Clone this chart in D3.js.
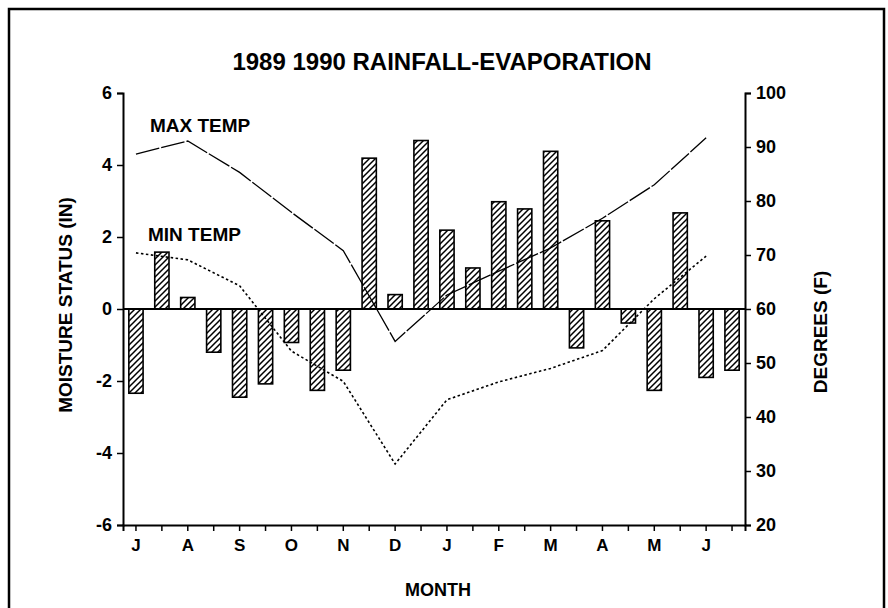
<!DOCTYPE html>
<html>
<head>
<meta charset="utf-8">
<script src="https://cdn.jsdelivr.net/npm/d3@7"></script>
<style>
  body { margin: 0; background: #fff; }
  svg { font-family: "Liberation Sans", Arial, sans-serif; font-weight: bold; }
</style>
</head>
<body>
<svg id="chart"></svg>
<script>
// half-month moisture status, monthly temps
var months = ["J", "A", "S", "O", "N", "D", "J", "F", "M", "A", "M", "J"]
var moisture = [-2.34, 1.58, 0.32, -1.2, -2.45, -2.08, -0.93, -2.26, -1.7, 4.19, 0.40, 4.68,
                2.19, 1.14, 2.98, 2.78, 4.38, -1.08, 2.45, -0.39, -2.26, 2.67, -1.9, -1.7]
var maxTemp = [88.7, 91.1, 85.3, 77.9, 70.8, 54, 62.6, 67, 71.3, 76.8, 83, 91.7]
var minTemp = [70.4, 69.1, 64.3, 52.2, 46.6, 31.3, 43.2, 46.5, 49, 52.3, 61.9, 69.8]
var leftTicks = [-6, -4, -2, 0, 2, 4, 6]
var rightTicks = [20, 30, 40, 50, 60, 70, 80, 90, 100]

var dimensions = {
    width: 888,
    height: 608,
    margin: { top: 93, bottom: 83, left: 123, right: 143 }
}

var svg = d3.select('#chart')
    .attr("width", dimensions.width)
    .attr("height", dimensions.height)

var x0 = dimensions.margin.left
var x1 = dimensions.width - dimensions.margin.right
var yTop = dimensions.margin.top
var yBot = dimensions.height - dimensions.margin.bottom

var xScale = d3.scaleBand()
    .domain(d3.range(moisture.length))
    .range([x0, x1])
    .paddingInner(0.45)
    .paddingOuter(0.225)

var xCenter = i => xScale(i) + xScale.bandwidth() / 2

var yScale = d3.scaleLinear().domain([-6, 6]).range([yBot, yTop])
var tScale = d3.scaleLinear().domain([20, 100]).range([yBot, yTop])

// hatch pattern
var defs = svg.append("defs")
defs.append("pattern")
    .attr("id", "hatch")
    .attr("patternUnits", "userSpaceOnUse")
    .attr("width", 6)
    .attr("height", 6)
    .append("path")
    .attr("d", "M-1,1 l2,-2 M0,6 l6,-6 M5,7 l2,-2")
    .attr("stroke", "#000")
    .attr("stroke-width", 1.5)

// outer frame
svg.append("rect")
    .attr("x", 9).attr("y", 9)
    .attr("width", 875).attr("height", 640)
    .attr("fill", "none")
    .attr("stroke", "#000")
    .attr("stroke-width", 2.5)

// title
svg.append("text")
    .attr("x", 442).attr("y", 70)
    .attr("text-anchor", "middle")
    .style("font-size", "24px")
    .text("1989 1990 RAINFALL-EVAPORATION")

// bars
svg.append("g").selectAll("rect")
    .data(moisture)
    .enter()
    .append("rect")
    .attr("x", (d, i) => xScale(i))
    .attr("width", xScale.bandwidth())
    .attr("y", d => yScale(Math.max(0, d)))
    .attr("height", d => Math.abs(yScale(d) - yScale(0)))
    .attr("fill", "url(#hatch)")
    .attr("stroke", "#000")
    .attr("stroke-width", 1.6)

// zero line
svg.append("line")
    .attr("x1", x0).attr("x2", x1)
    .attr("y1", yScale(0)).attr("y2", yScale(0))
    .attr("stroke", "#000")
    .attr("stroke-width", 2)

// temperature lines
var line = d3.line()
    .x((d, i) => xCenter(i * 2))
    .y(d => tScale(d))

svg.append("path")
    .datum(maxTemp)
    .attr("d", line)
    .attr("fill", "none")
    .attr("stroke", "#000")
    .attr("stroke-width", 1.3)
    .attr("stroke-dasharray", "24,2")

svg.append("path")
    .datum(minTemp)
    .attr("d", line)
    .attr("fill", "none")
    .attr("stroke", "#000")
    .attr("stroke-width", 1.6)
    .attr("stroke-dasharray", "2.5,2.5")

svg.append("text").attr("x", 150).attr("y", 132)
    .style("font-size", "19px").text("MAX TEMP")
svg.append("text").attr("x", 148).attr("y", 241)
    .style("font-size", "19px").text("MIN TEMP")

// axes
var leftAxis = svg.append('g')
    .attr("transform", `translate(${x0},0)`)
    .call(d3.axisLeft(yScale).tickValues(leftTicks).tickFormat(d => String(d)).tickSize(6).tickPadding(5))

var rightAxis = svg.append('g')
    .attr("transform", `translate(${x1},0)`)
    .call(d3.axisRight(tScale).tickValues(rightTicks).tickSize(6).tickPadding(5))

var bottomAxis = svg.append('g')
    .attr("transform", `translate(0,${yBot})`)
    .call(d3.axisBottom(xScale).tickFormat(i => i % 2 == 0 ? months[i / 2] : "").tickSize(6).tickPadding(8))

svg.selectAll(".domain").attr("stroke-width", 2).attr("stroke", "#000")
svg.selectAll(".tick line").attr("stroke-width", 1.5).attr("stroke", "#000")
leftAxis.selectAll("text").style("font-size", "18px").attr("fill", "#000")
rightAxis.selectAll("text").style("font-size", "18px").attr("fill", "#000")
bottomAxis.selectAll("text").style("font-size", "17px").attr("fill", "#000")
svg.selectAll("g").attr("font-family", null).attr("font-size", null)

// axis titles
svg.append("text")
    .attr("transform", "translate(72,305) rotate(-90)")
    .attr("text-anchor", "middle")
    .style("font-size", "19px")
    .text("MOISTURE STATUS (IN)")

svg.append("text")
    .attr("transform", "translate(827,332) rotate(-90)")
    .attr("text-anchor", "middle")
    .style("font-size", "19px")
    .text("DEGREES (F)")

svg.append("text")
    .attr("x", 438).attr("y", 596)
    .attr("text-anchor", "middle")
    .style("font-size", "18px")
    .text("MONTH")
</script>
</body>
</html>
